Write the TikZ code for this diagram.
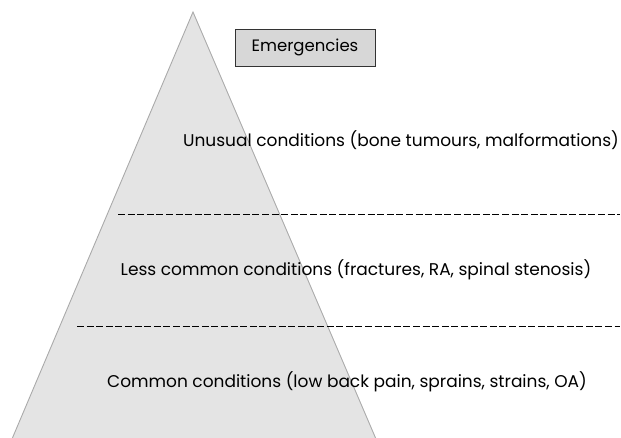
\documentclass[tikz,border=0pt]{standalone}
\usepackage{fontspec}
\setmainfont{Poppins}
\definecolor{pyrfill}{RGB}{228,228,228}
\definecolor{pyredge}{RGB}{170,170,170}
\definecolor{boxfill}{RGB}{215,215,215}
\tikzset{
  levellabel/.style={font=\fontsize{17}{19}\selectfont, inner sep=0pt},
  divider/.style={black, line width=0.7pt, dash pattern=on 7pt off 2.6pt},
  topbox/.style={draw=black!80, fill=boxfill, line width=0.8pt, minimum width=140pt, minimum height=37pt, font=\fontsize{16.5}{19}\selectfont}
}
\begin{document}
\begin{tikzpicture}[x=1pt,y=-1pt]
\useasboundingbox (0,0) rectangle (621,438);
% pyramid
\coordinate (apex) at (193,12);
\coordinate (baseL) at (12,439);
\coordinate (baseR) at (376,439);
\filldraw[fill=pyrfill, draw=pyredge, line width=0.9pt] (baseL) -- (apex) -- (baseR);
\node[topbox] (emerg) at (305,47.5) {Emergencies};
\node[levellabel] (unusual) at (401,140) {Unusual conditions (bone tumours, malformations)};
\node[levellabel] (lesscommon) at (356,270) {Less common conditions (fractures, RA, spinal stenosis)};
\node[levellabel] (common) at (347,382) {Common conditions (low back pain, sprains, strains, OA)};
% dashed separators
\coordinate (d1a) at (118,214);
\coordinate (d1b) at (620,214);
\coordinate (d2a) at (77,326);
\coordinate (d2b) at (620,326);
\draw[divider] (d1a) -- (d1b);
\draw[divider] (d2a) -- (d2b);
\end{tikzpicture}
\end{document}
